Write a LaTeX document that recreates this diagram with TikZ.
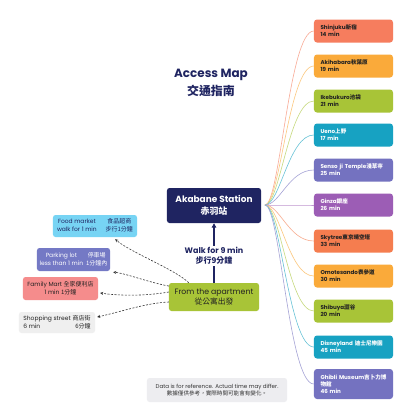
\documentclass[tikz,border=0pt]{standalone}
\usepackage{fontspec}
\setmainfont{Poppins}
\newfontfamily\cjk{Noto Sans CJK TC}
\newcommand{\cj}[1]{{\cjk #1}}
\usetikzlibrary{calc,arrows.meta}
\definecolor{navy}{HTML}{1F2461}
\definecolor{cShin}{HTML}{F67D5E}
\definecolor{cOra}{HTML}{FAAA3A}
\definecolor{cGrn}{HTML}{A8C437}
\definecolor{cTeal}{HTML}{17A2C2}
\definecolor{cSlate}{HTML}{7472C0}
\definecolor{cPur}{HTML}{9C5DB5}
\definecolor{cSky}{HTML}{F57D4F}
\definecolor{cFood}{HTML}{77D4F4}
\definecolor{cPark}{HTML}{7479C5}
\definecolor{cFam}{HTML}{F58C8C}
\definecolor{cShop}{HTML}{EFEFEF}
\definecolor{cNote}{HTML}{EDEDF0}
\definecolor{dtext}{HTML}{222222}
\definecolor{dgrey}{HTML}{333333}
\tikzset{
  dest/.style={rounded corners=3bp, minimum width=79bp, minimum height=23bp,
    inner sep=0pt, text width=66bp, align=left,
    font=\fontsize{5.6}{7}\selectfont\bfseries},
  lbox/.style={rounded corners=2.5bp, inner sep=0pt,
    font=\fontsize{6}{8}\selectfont},
  link/.style={line width=0.6bp},
  dlink/.style={draw=dgrey, dash pattern=on 2bp off 1.5bp, line width=0.6bp,
    -{Stealth[length=3bp,width=3bp]}},
}
\begin{document}
\begin{tikzpicture}[x=1bp,y=-1bp]
\fill[white] (0,0) rectangle (420,420);
\useasboundingbox (0,0) rectangle (420,420);

% title
\node[align=center, text=navy, font=\fontsize{12}{18}\selectfont\bfseries] (title) at (211,83)
  {Access Map\\\cj{交通指南}};

% right destinations
\node[dest, fill=cShin, text=dtext] (shinjuku) at (353.5,31) {Shinjuku\cj{新宿}\\14 min};
\node[dest, fill=cOra, text=dtext] (akihabara) at (353.5,66) {Akihabara\cj{秋葉原}\\19 min};
\node[dest, fill=cGrn, text=dtext] (ikebukuro) at (353.5,101) {Ikebukuro\cj{池袋}\\21 min};
\node[dest, fill=cTeal, text=white] (ueno) at (353.5,135) {Ueno\cj{上野}\\17 min};
\node[dest, fill=cSlate, text=white] (sensoji) at (353.5,170) {\mbox{Senso ji Temple\cj{淺草寺}}\\25 min};
\node[dest, fill=cPur, text=white] (ginza) at (353.5,205) {Ginza\cj{銀座}\\26 min};
\node[dest, fill=cSky, text=dtext] (skytree) at (353.5,241) {\mbox{Skytree\cj{東京晴空塔}}\\33 min};
\node[dest, fill=cOra, text=dtext] (omotesando) at (353.5,276) {\mbox{Omotesando\cj{表參道}}\\30 min};
\node[dest, fill=cGrn, text=dtext] (shibuya) at (353.5,311) {Shibuya\cj{澀谷}\\20 min};
\node[dest, fill=cTeal, text=white] (disney) at (353.5,347) {\mbox{Disneyland \cj{迪士尼樂園}}\\45 min};
\node[dest, fill=cSlate, text=white, minimum height=30bp] (ghibli) at (353.5,384) {\mbox{Ghibli Museum\cj{吉卜力博}}\\\cj{物館}\\46 min};

% Akabane station
\node[fill=navy, text=white, rounded corners=2.5bp, minimum width=94bp, minimum height=35bp,
  inner sep=0pt, align=center, font=\fontsize{9}{12.5}\selectfont\bfseries] (akabane) at (214,205.5)
  {Akabane Station\\\cj{赤羽站}};
\coordinate (hub) at (265,205);

\foreach \n/\c in {shinjuku/cShin, akihabara/cOra, ikebukuro/cGrn, ueno/cTeal, sensoji/cSlate,
  ginza/cPur, skytree/cSky, omotesando/cOra, shibuya/cGrn, disney/cTeal, ghibli/cSlate}
  \draw[link, draw=\c!65] (hub) .. controls +(15,0) and +(-25,0) .. (\n.west);

% apartment
\node[fill=cGrn, text=dtext, rounded corners=2.5bp, minimum width=90bp, minimum height=28bp,
  inner sep=0pt, align=center, font=\fontsize{7.8}{10}\selectfont] (apt) at (214,297)
  {From the apartment\\\cj{從公寓出發}};

\draw[navy, line width=1.2bp, -{Triangle[length=4.5bp,width=4.5bp]}] (apt.north) --
  node[pos=0.45, fill=white, inner sep=1.5bp, align=center, text=navy,
  font=\fontsize{8}{10}\selectfont\bfseries] (walk) {Walk for 9 min\\\cj{步行9分鐘}} (akabane.south);

% left boxes
\node[lbox, fill=cFood, text=navy, minimum width=84bp, minimum height=22bp] (food) at (95,226)
  {\begin{tabular}{@{}c@{\hspace{9bp}}c@{}}Food market & \cj{食品超商}\\walk for 1 min & \cj{步行1分鐘}\end{tabular}};
\node[lbox, fill=cPark, text=white, minimum width=73bp, minimum height=23bp] (parking) at (73.5,259.5)
  {\begin{tabular}{@{}c@{\hspace{3bp}}c@{}}Parking lot & \cj{停車場}\\less than 1 min & \cj{1分鐘內}\end{tabular}};
\node[lbox, fill=cFam, text=dtext, minimum width=75bp, minimum height=23bp, align=center] (family) at (60.5,288.5)
  {Family Mart \cj{全家便利店}\\1 min \cj{1分鐘}};
\node[lbox, fill=cShop, text=dtext, minimum width=76bp, minimum height=21bp] (shop) at (57,322.5)
  {\begin{tabular}{@{}l@{\hspace{2bp}}r@{}}Shopping street & \cj{商店街}\\6 min & \cj{6分鐘}\end{tabular}};

\draw[dlink] ($(apt.north west)+(20,0)$) .. controls +(-13,-13) and +(15,13) .. ($(food.south east)+(-22,2)$);
\draw[dlink] ($(apt.west)+(0,-11)$) .. controls +(-18,-3) and +(12,1) .. ($(parking.south east)+(3,1)$);
\draw[dlink] ($(apt.west)+(0,-5)$) .. controls +(-23,4) and +(20,3) .. ($(family.east)+(2,4.5)$);
\draw[dlink] ($(apt.west)+(0,5)$) .. controls +(-23,1) and +(23,-5) .. ($(shop.east)+(2,-5.5)$);

% note
\node[fill=cNote, text=dgrey, rounded corners=2.5bp, minimum width=140bp, minimum height=24bp,
  inner sep=0pt, align=center, font=\fontsize{5.6}{7.5}\selectfont] (note) at (217,390)
  {Data is for reference. Actual time may differ.\\\cj{數據僅供參考，實際時間可能會有變化。}};
\end{tikzpicture}
\end{document}
